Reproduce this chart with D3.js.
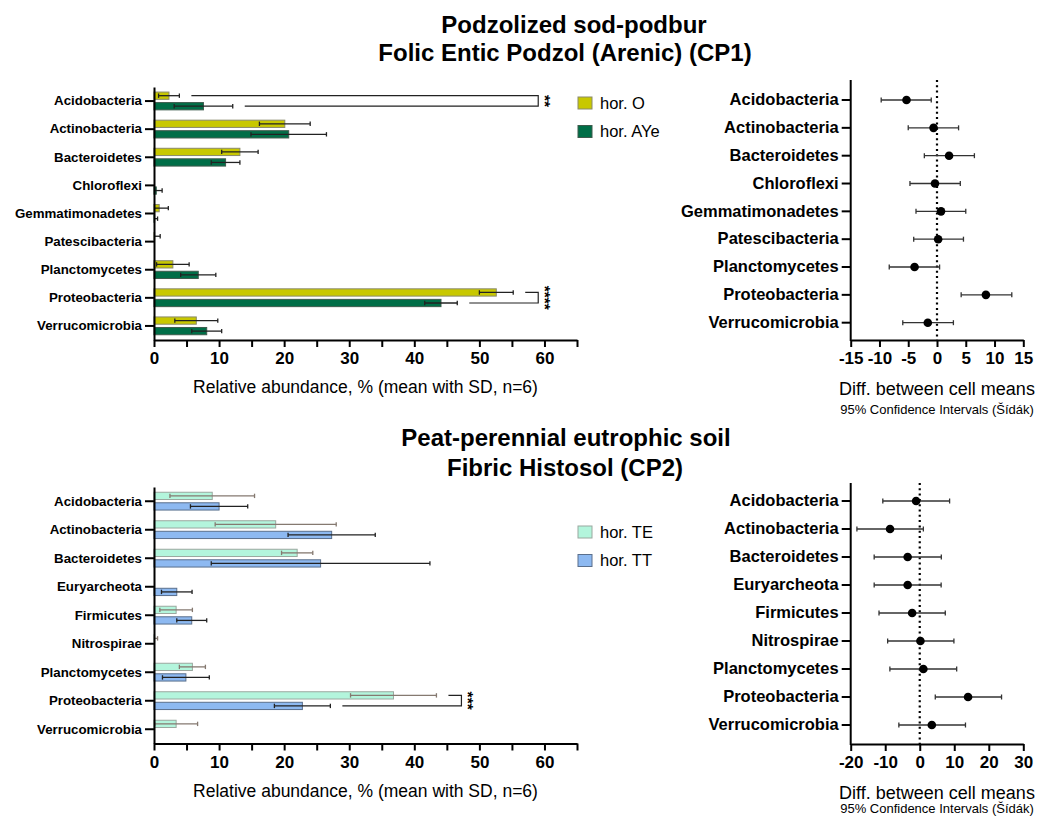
<!DOCTYPE html>
<html>
<head>
<meta charset="utf-8">
<script src="https://cdn.jsdelivr.net/npm/d3@7"></script>
<style>
  body { margin: 0; background: #fff; }
  svg { display: block; }
  text { font-family: Arial, "Liberation Sans", sans-serif; fill: #000; }
</style>
</head>
<body>
<svg id="chart" width="1043" height="817"></svg>
<script>
// ---- CP1: Podzolized sod-podbur ----
const cp1Categories = ["Acidobacteria", "Actinobacteria", "Bacteroidetes", "Chloroflexi",
  "Gemmatimonadetes", "Patescibacteria", "Planctomycetes", "Proteobacteria", "Verrucomicrobia"];
const cp1HorO     = [2.3, 20.1, 13.2, 0, 0.8, 0.1, 2.9, 52.6, 6.5];
const cp1HorOSd   = [1.6, 3.9, 2.8, 0, 1.4, 0.85, 2.5, 2.6, 3.3];
const cp1HorAYe   = [7.6, 20.7, 11.0, 0.35, 0.1, 0, 6.8, 44.1, 8.1];
const cp1HorAYeSd = [4.5, 5.8, 2.2, 0.9, 0.45, 0, 2.7, 2.5, 2.3];
const cp1DiffMean = [-5.3, -0.6, 2.1, -0.35, 0.7, 0.2, -3.9, 8.5, -1.6];
const cp1DiffLow  = [-9.7, -5.0, -2.2, -4.7, -3.65, -4.05, -8.3, 4.2, -5.95];
const cp1DiffHigh = [-1.0, 3.75, 6.5, 4.05, 5.0, 4.6, 0.45, 13.0, 2.85];
const cp1Significance = [{ category: "Acidobacteria", label: "**" }, { category: "Proteobacteria", label: "****" }];
const cp1DiffTicks = [-15, -10, -5, 0, 5, 10, 15];

// ---- CP2: Peat-perennial eutrophic soil ----
const cp2Categories = ["Acidobacteria", "Actinobacteria", "Bacteroidetes", "Euryarcheota",
  "Firmicutes", "Nitrospirae", "Planctomycetes", "Proteobacteria", "Verrucomicrobia"];
const cp2HorTE   = [8.95, 18.7, 22.0, 0, 3.4, 0.1, 5.9, 36.8, 3.4];
const cp2HorTESd = [6.5, 9.3, 2.4, 0, 2.5, 0.45, 2.0, 6.6, 3.3];
const cp2HorTT   = [10.0, 27.3, 25.6, 3.5, 5.8, 0, 4.9, 22.8, 0];
const cp2HorTTSd = [4.4, 6.7, 16.8, 2.35, 2.3, 0, 3.6, 4.3, 0];
const cp2DiffMean = [-1.05, -8.6, -3.5, -3.5, -2.2, 0.2, 1.05, 14.0, 3.5];
const cp2DiffLow  = [-10.7, -18.2, -13.2, -13.2, -11.8, -9.3, -8.65, 4.5, -6.05];
const cp2DiffHigh = [8.65, 1.05, 6.25, 6.2, 7.4, 9.9, 10.7, 23.7, 13.25];
const cp2Significance = [{ category: "Proteobacteria", label: "***" }];
const cp2DiffTicks = [-20, -10, 0, 10, 20, 30];

// shared abundance axis: labelled every 10, minor ticks every 5
const abundanceTicks = [0, 5, 10, 15, 20, 25, 30, 35, 40, 45, 50, 55, 60, 65];

const svg = d3.select("#chart");
const FONT = 'Arial, "Liberation Sans", sans-serif';

function styleAxis(g, fontSize, weight) {
  g.selectAll(".domain").attr("stroke", "#000").attr("stroke-width", 2);
  g.selectAll(".tick line").attr("stroke", "#000").attr("stroke-width", 2);
  g.selectAll(".tick text").attr("font-family", FONT).attr("font-size", fontSize)
    .attr("font-weight", weight).attr("fill", "#000");
}

function drawBarPanel(p) {
  const x = d3.scaleLinear().domain([0, 65]).range([154, 577]);
  const y = d3.scaleBand().domain(p.categories).range([p.top, p.axisY]);
  const sub = d3.scaleBand().domain([0, 1]).range([-9, 8.8]).paddingInner(0.31);
  const g = svg.append("g");
  const series = [
    { values: p.a, sd: p.aSd, fill: p.colors[0], stroke: p.strokes[0], err: p.errColors[0] },
    { values: p.b, sd: p.bSd, fill: p.colors[1], stroke: p.strokes[1], err: p.errColors[1] }
  ];
  const yCenter = (c, s) => y(c) + y.bandwidth() / 2 + sub(s) + sub.bandwidth() / 2;

  series.forEach((s, si) => {
    const rows = p.categories.map((c, i) => ({ c, v: s.values[i], sd: s.sd[i] }));
    g.append("g").selectAll("rect").data(rows.filter(d => d.v > 0)).join("rect")
      .attr("x", x(0))
      .attr("y", d => y(d.c) + y.bandwidth() / 2 + sub(si))
      .attr("width", d => x(d.v) - x(0))
      .attr("height", sub.bandwidth())
      .attr("fill", s.fill)
      .attr("stroke", s.stroke)
      .attr("stroke-width", 1);
    const eb = g.append("g").attr("stroke", s.err).attr("stroke-width", 1.3).attr("fill", "none");
    rows.filter(d => d.sd > 0).forEach(d => {
      const yc = yCenter(d.c, si);
      const lo = Math.max(0, d.v - d.sd);
      eb.append("line").attr("x1", x(lo)).attr("x2", x(d.v + d.sd)).attr("y1", yc).attr("y2", yc);
      eb.append("line").attr("x1", x(d.v + d.sd)).attr("x2", x(d.v + d.sd)).attr("y1", yc - 2.2).attr("y2", yc + 2.2);
      if (d.v - d.sd > 0)
        eb.append("line").attr("x1", x(lo)).attr("x2", x(lo)).attr("y1", yc - 2.2).attr("y2", yc + 2.2);
    });
  });

  // significance brackets
  const maxEnd = d3.max(series.flatMap(s => s.values.map((v, i) => v + s.sd[i])));
  const xb = x(maxEnd) + 25;
  p.significance.forEach(sg => {
    const i = p.categories.indexOf(sg.category);
    const ya = yCenter(sg.category, 0), yb = yCenter(sg.category, 1);
    const xa = x(p.a[i] + p.aSd[i]) + 12, xbb = x(p.b[i] + p.bSd[i]) + 12;
    g.append("path")
      .attr("d", `M${xa},${ya}H${xb}V${yb}H${xbb}`)
      .attr("fill", "none").attr("stroke", "#222").attr("stroke-width", 1.2);
    g.append("text")
      .attr("transform", `translate(${xb + 11},${(ya + yb) / 2}) rotate(90)`)
      .attr("text-anchor", "middle").attr("dy", "0.62em")
      .attr("font-size", 15.5).attr("font-weight", "bold").attr("fill", "#000")
      .text(sg.label);
  });

  const xa = g.append("g").attr("transform", `translate(0,${p.axisY})`)
    .call(d3.axisBottom(x).tickValues(abundanceTicks).tickSize(7).tickSizeOuter(0)
      .tickFormat(d => d % 10 === 0 ? String(d) : ""));
  styleAxis(xa, 17, "bold");
  xa.selectAll(".tick text").attr("y", 12);

  const ya = g.append("g").attr("transform", `translate(${x(0)},0)`)
    .call(d3.axisLeft(y).tickSize(9).tickSizeOuter(0).tickPadding(3));
  styleAxis(ya, 13.3, "bold");

  g.append("text").attr("x", (x.range()[0] + x.range()[1]) / 2).attr("y", p.axisY + 53)
    .attr("text-anchor", "middle").attr("font-size", 17.5)
    .text("Relative abundance, % (mean with SD, n=6)");

  // legend
  p.legend.forEach((lab, i) => {
    const ly = p.legendY + i * 28.5;
    g.append("rect").attr("x", 578).attr("y", ly - 6).attr("width", 14).attr("height", 12)
      .attr("fill", series[i].fill).attr("stroke", series[i].stroke).attr("stroke-width", 1);
    g.append("text").attr("x", 600).attr("y", ly).attr("dy", "0.35em")
      .attr("font-size", 16.5).text(lab);
  });
}

function drawDiffPanel(p) {
  const x = d3.scaleLinear().domain(p.domain).range([850.7, 1023.3]);
  const y = d3.scaleBand().domain(p.categories).range([p.bandTop, p.bandBottom]);
  const g = svg.append("g");

  g.append("line").attr("x1", x(0)).attr("x2", x(0)).attr("y1", p.top).attr("y2", p.axisY)
    .attr("stroke", "#000").attr("stroke-width", 2.2).attr("stroke-dasharray", "2,3.3");

  const rows = p.categories.map((c, i) => ({ c, m: p.mean[i], lo: p.low[i], hi: p.high[i] }));
  const cy = d => y(d.c) + y.bandwidth() / 2;
  const ci = g.append("g").attr("stroke", "#333").attr("stroke-width", 1.3);
  rows.forEach(d => {
    ci.append("line").attr("x1", x(d.lo)).attr("x2", x(d.hi)).attr("y1", cy(d)).attr("y2", cy(d));
    ci.append("line").attr("x1", x(d.lo)).attr("x2", x(d.lo)).attr("y1", cy(d) - 2.5).attr("y2", cy(d) + 2.5);
    ci.append("line").attr("x1", x(d.hi)).attr("x2", x(d.hi)).attr("y1", cy(d) - 2.5).attr("y2", cy(d) + 2.5);
  });
  g.append("g").selectAll("circle").data(rows).join("circle")
    .attr("cx", d => x(d.m)).attr("cy", cy).attr("r", 4.3).attr("fill", "#000");

  const xa = g.append("g").attr("transform", `translate(0,${p.axisY})`)
    .call(d3.axisBottom(x).tickValues(p.ticks).tickSize(7).tickSizeOuter(0).tickFormat(d => String(d)));
  styleAxis(xa, 17, "bold");
  xa.selectAll(".tick text").attr("y", 12);

  const ya = g.append("g").attr("transform", `translate(${x.range()[0]},0)`)
    .call(d3.axisLeft(y).tickSize(9).tickSizeOuter(0).tickPadding(3));
  styleAxis(ya, 16.5, "bold");
  ya.select(".domain").remove();
  g.append("line").attr("x1", x.range()[0]).attr("x2", x.range()[0])
    .attr("y1", p.top).attr("y2", p.axisY + 1).attr("stroke", "#000").attr("stroke-width", 2);

  const cx = (x.range()[0] + x.range()[1]) / 2;
  g.append("text").attr("x", cx).attr("y", p.axisY + 55).attr("text-anchor", "middle")
    .attr("font-size", 18).text("Diff. between cell means");
  g.append("text").attr("x", cx).attr("y", p.axisY + p.noteOffset).attr("text-anchor", "middle")
    .attr("font-size", 13).text("95% Confidence Intervals (Šídák)");
}

function drawTitle(lines) {
  lines.forEach(l => {
    svg.append("text").attr("x", l.x).attr("y", l.y).attr("text-anchor", "middle")
      .attr("font-size", 24).attr("font-weight", "bold").text(l.text);
  });
}

drawTitle([
  { text: "Podzolized sod-podbur", x: 574, y: 33 },
  { text: "Folic Entic Podzol (Arenic) (CP1)", x: 565, y: 61 }
]);
drawTitle([
  { text: "Peat-perennial eutrophic soil", x: 566, y: 446 },
  { text: "Fibric Histosol (CP2)", x: 565, y: 476 }
]);

drawBarPanel({
  categories: cp1Categories, a: cp1HorO, aSd: cp1HorOSd, b: cp1HorAYe, bSd: cp1HorAYeSd,
  colors: ["#c8c800", "#006e47"], strokes: ["#8a8a6a", "#3d5a4c"], errColors: ["#222", "#222"],
  significance: cp1Significance, legend: ["hor. O", "hor. AYe"],
  top: 87, axisY: 340, legendY: 103
});
drawDiffPanel({
  categories: cp1Categories, mean: cp1DiffMean, low: cp1DiffLow, high: cp1DiffHigh,
  domain: [-15, 15], ticks: cp1DiffTicks, top: 80, bandTop: 86.1, bandBottom: 336.6, axisY: 340,
  noteOffset: 74
});

drawBarPanel({
  categories: cp2Categories, a: cp2HorTE, aSd: cp2HorTESd, b: cp2HorTT, bSd: cp2HorTTSd,
  colors: ["#b3f5dc", "#8db9f1"], strokes: ["#9aa89f", "#5a6f8c"], errColors: ["#857970", "#222"],
  significance: cp2Significance, legend: ["hor. TE", "hor. TT"],
  top: 487, axisY: 743.5, legendY: 532
});
drawDiffPanel({
  categories: cp2Categories, mean: cp2DiffMean, low: cp2DiffLow, high: cp2DiffHigh,
  domain: [-20, 30], ticks: cp2DiffTicks, top: 483, bandTop: 487, bandBottom: 739, axisY: 744,
  noteOffset: 69
});
</script>
</body>
</html>
